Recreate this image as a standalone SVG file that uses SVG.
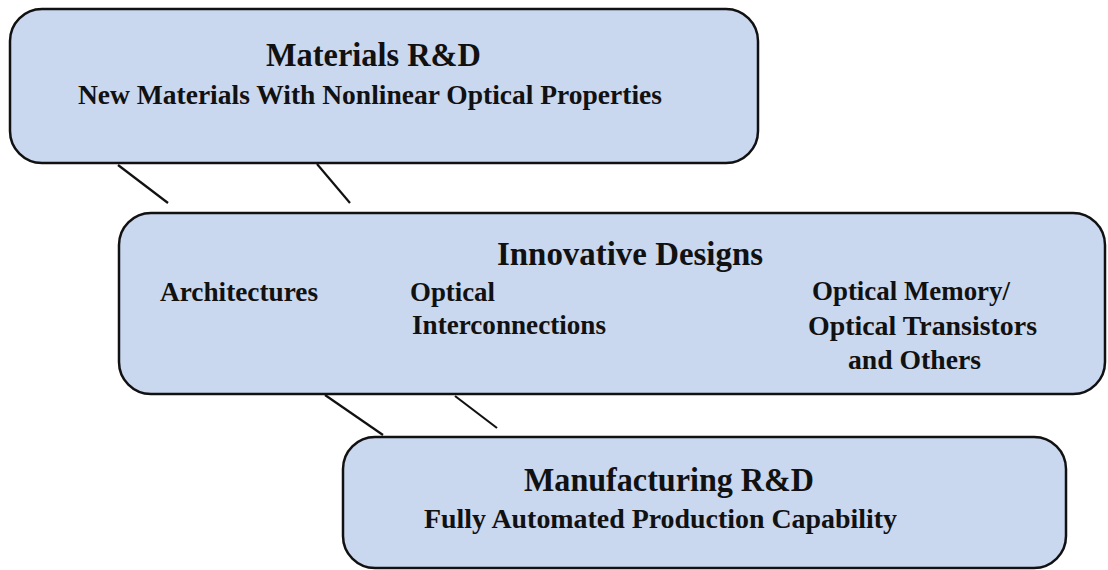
<svg xmlns="http://www.w3.org/2000/svg" width="1108" height="570" viewBox="0 0 1108 570">
<style>
.box{fill:#c9d7ef;stroke:#111;stroke-width:2.5}
.t{font-family:"Liberation Serif","Times New Roman",serif;font-weight:bold;fill:#111}
.h{font-size:33px}
.s{font-size:27px}
.c line{stroke:#111;stroke-width:2.2}
</style>
<rect width="1108" height="570" fill="#fff"/>
<g class="c" id="connectors">
<line x1="118" y1="165" x2="168" y2="203"/>
<line x1="317" y1="164" x2="350" y2="203"/>
<line x1="325" y1="395" x2="383" y2="435"/>
<line x1="455" y1="396" x2="497" y2="428"/>
</g>
<g id="materials">
<rect class="box" x="10" y="9" width="748" height="154" rx="32"/>
<text class="t h" x="266" y="66" textLength="215" lengthAdjust="spacingAndGlyphs">Materials R&amp;D</text>
<text class="t s" x="78" y="104" textLength="584" lengthAdjust="spacingAndGlyphs">New Materials With Nonlinear Optical Properties</text>
</g>
<g id="designs">
<rect class="box" x="119" y="213" width="986" height="181" rx="32"/>
<text class="t h" x="497" y="265" textLength="266" lengthAdjust="spacingAndGlyphs">Innovative Designs</text>
<text class="t s" x="160" y="301" textLength="158" lengthAdjust="spacingAndGlyphs">Architectures</text>
<text class="t s" x="410" y="301" textLength="85" lengthAdjust="spacingAndGlyphs">Optical</text>
<text class="t s" x="412" y="334" textLength="194" lengthAdjust="spacingAndGlyphs">Interconnections</text>
<text class="t s" x="812" y="300" textLength="198" lengthAdjust="spacingAndGlyphs">Optical Memory/</text>
<text class="t s" x="808" y="335" textLength="229" lengthAdjust="spacingAndGlyphs">Optical Transistors</text>
<text class="t s" x="848" y="369" textLength="133" lengthAdjust="spacingAndGlyphs">and Others</text>
</g>
<g id="manufacturing">
<rect class="box" x="343" y="437" width="723" height="131" rx="32"/>
<text class="t h" x="524" y="491" textLength="290" lengthAdjust="spacingAndGlyphs">Manufacturing R&amp;D</text>
<text class="t s" x="424" y="528" textLength="473" lengthAdjust="spacingAndGlyphs">Fully Automated Production  Capability</text>
</g>
</svg>
